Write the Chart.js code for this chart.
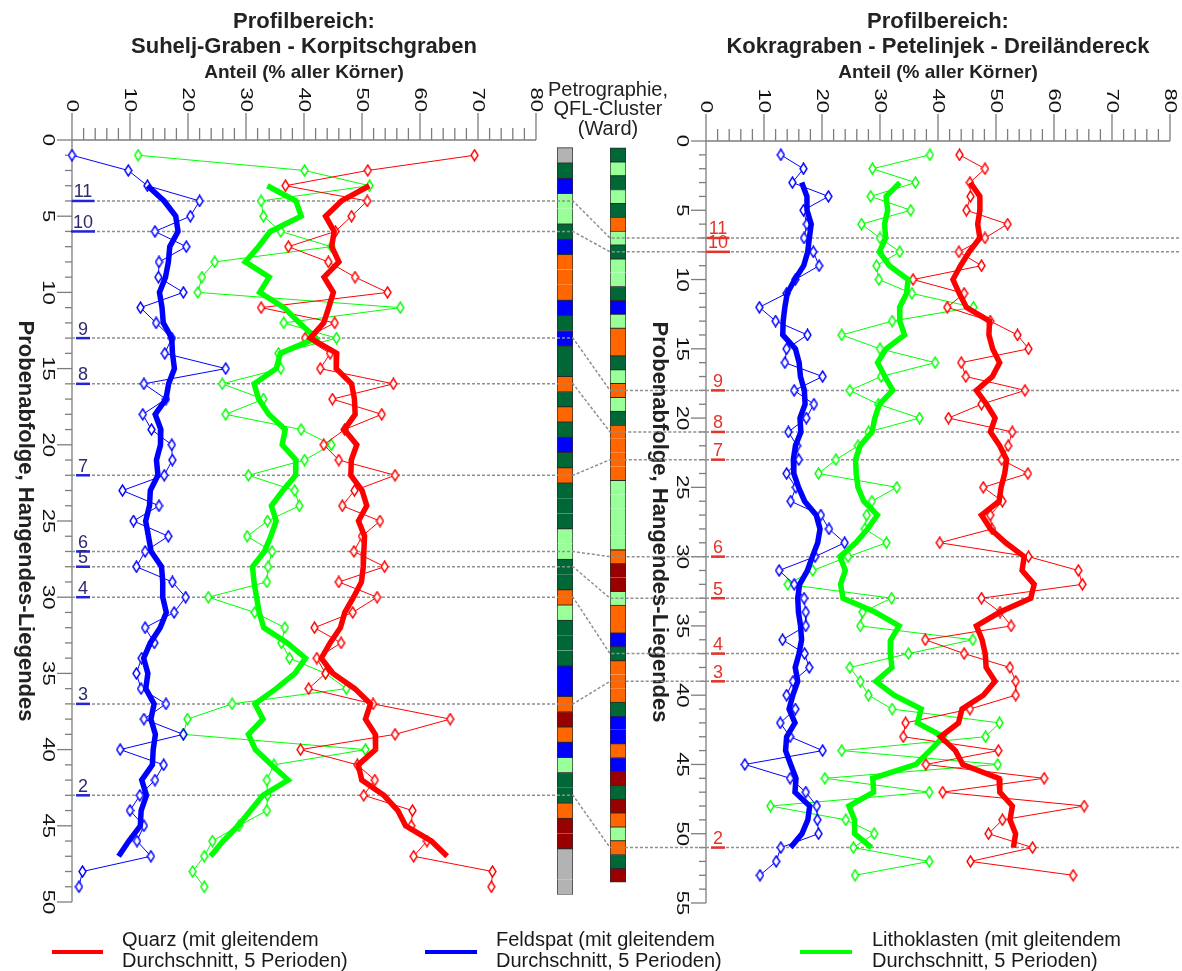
<!DOCTYPE html>
<html>
<head>
<meta charset="utf-8">
<title>Petrographie – QFL-Anteile entlang zweier Profilbereiche</title>
<script src="https://cdn.jsdelivr.net/npm/chart.js@4.4.1/dist/chart.umd.min.js"></script>
<style>
  html, body { margin: 0; padding: 0; background: #ffffff; }
  #wrap { position: relative; width: 1182px; height: 971px; overflow: hidden; background: #ffffff; }
  #wrap canvas { position: absolute; left: 0; top: 0; }
</style>
</head>
<body>
<div id="wrap">
  <canvas id="panelLeft" width="1182" height="971"></canvas>
  <canvas id="panelRight" width="1182" height="971"></canvas>
  <canvas id="stripLeft" width="1182" height="971"></canvas>
  <canvas id="stripRight" width="1182" height="971"></canvas>
</div>
<script>
// ---------------- data ----------------
// Profilbereich Suhelj-Graben - Korpitschgraben, samples 1..49 (top = hangend)
const quarzLeft = [69.4, 51.0, 36.8, 50.9, 48.2, 45.4, 37.3, 44.2, 48.8, 54.4,
  32.6, 45.3, 40.2, 44.5, 42.8, 55.4, 44.9, 53.4, 47.0, 43.4,
  46.0, 55.7, 48.7, 46.6, 53.1, 50.0, 48.6, 53.9, 46.0, 52.6,
  48.4, 41.8, 46.4, 42.2, 43.7, 40.8, 51.9, 65.2, 55.7, 39.4,
  49.2, 52.2, 50.3, 58.7, 58.5, 61.2, 58.9, 72.5, 72.3];
const feldspatLeft = [0.0, 9.7, 13.0, 22.0, 20.4, 14.3, 19.7, 15.0, 14.9, 19.2,
  11.8, 14.5, 17.2, 16.0, 26.5, 12.4, 16.2, 12.2, 13.7, 17.2,
  17.3, 15.9, 8.7, 15.0, 10.6, 16.6, 12.6, 11.1, 17.3, 19.6,
  17.6, 12.6, 14.2, 12.0, 11.1, 11.9, 16.2, 12.4, 19.2, 8.3,
  15.8, 14.3, 11.7, 10.0, 12.4, 11.2, 13.6, 1.8, 1.2];
const lithoLeft = [11.4, 40.1, 51.3, 32.6, 33.0, 36.0, 44.7, 24.6, 22.4, 21.7,
  56.6, 36.5, 45.6, 35.6, 36.0, 25.9, 33.0, 26.5, 39.5, 44.7,
  40.1, 30.4, 38.4, 39.2, 33.7, 30.2, 34.5, 33.8, 33.6, 23.5,
  31.5, 36.7, 36.1, 37.5, 43.7, 47.3, 27.6, 19.9, 19.2, 50.6,
  34.8, 33.6, 33.7, 33.6, 28.8, 24.2, 22.8, 20.8, 22.8];

// Profilbereich Kokragraben - Petelinjek - Dreiländereck, samples 1..53
const quarzRight = [43.7, 48.1, 45.5, 45.6, 44.9, 52.0, 48.1, 43.6, 47.5, 35.7,
  44.5, 41.6, 49.0, 53.7, 55.6, 44.0, 44.8, 55.0, 47.5, 41.8,
  52.8, 52.1, 51.0, 55.5, 47.8, 51.1, 49.0, 49.3, 40.3, 55.6,
  64.2, 64.9, 47.5, 50.7, 52.6, 37.8, 44.5, 52.4, 53.4, 53.4,
  45.5, 34.4, 34.0, 50.4, 37.9, 58.3, 40.8, 65.2, 51.1, 48.7,
  56.3, 45.6, 63.3];
const feldspatRight = [12.9, 16.8, 14.9, 21.1, 16.8, 17.4, 16.9, 18.5, 19.5, 15.4,
  13.9, 9.2, 12.0, 17.5, 13.9, 13.6, 20.1, 15.2, 18.6, 17.3,
  14.2, 15.7, 16.0, 13.9, 15.5, 14.6, 19.8, 21.2, 23.9, 18.8,
  12.6, 15.2, 16.9, 17.2, 17.2, 13.2, 17.0, 17.8, 15.0, 13.9,
  15.4, 12.8, 14.5, 20.1, 6.7, 14.5, 17.2, 19.1, 19.2, 19.4,
  12.9, 12.1, 9.3];
const lithoRight = [38.6, 28.7, 36.1, 28.4, 35.3, 26.8, 30.0, 33.4, 29.4, 29.8,
  35.5, 46.1, 32.1, 23.4, 30.0, 39.5, 30.2, 24.8, 29.7, 36.8,
  28.0, 26.2, 22.4, 19.4, 32.9, 28.6, 27.7, 27.4, 31.1, 24.5,
  18.4, 14.1, 32.0, 27.0, 26.6, 46.0, 34.9, 24.8, 26.6, 28.0,
  32.1, 50.6, 48.2, 23.4, 50.3, 20.5, 38.5, 11.1, 24.1, 29.0,
  25.4, 38.5, 25.7];

// QFL-Cluster (Ward) per sample: G grau, D dunkelgrün, B blau, L hellgrün, O orange, R dunkelrot
const clusterLeft = ['G','D','B','L','L','D','B','O','O','O',
  'B','D','B','D','D','O','D','O','D','B',
  'D','O','D','D','D','L','L','D','D','O',
  'L','D','D','D','B','B','O','R','O','B',
  'L','D','D','O','R','R','G','G','G'];
const clusterRight = ['D','L','D','L','D','O','L','D','L','L',
  'D','B','L','O','O','D','L','O','L','D',
  'O','O','O','O','L','L','L','L','L','O',
  'R','R','L','O','O','B','D','O','O','O',
  'D','B','B','O','B','R','D','R','O','L',
  'O','D','R'];

// Horizon markers and the sample they sit on in each profile
const horizonNames = ['11', '10', '9', '8', '7', '6', '5', '4', '3', '2'];
const horizonLeft  = [4, 6, 13, 16, 22, 27, 28, 30, 37, 43];
const horizonRight = [7, 8, 18, 21, 23, 30, 33, 37, 39, 51];

// Axis tick labels
const shareTicks = [0, 10, 20, 30, 40, 50, 60, 70, 80];
const sampleTicksLeft = [0, 5, 10, 15, 20, 25, 30, 35, 40, 45, 50];
const sampleTicksRight = [0, 5, 10, 15, 20, 25, 30, 35, 40, 45, 50, 55];

// Texts
const titleLeft = ['Profilbereich:', 'Suhelj-Graben - Korpitschgraben'];
const titleRight = ['Profilbereich:', 'Kokragraben - Petelinjek - Dreiländereck'];
const shareTitle = 'Anteil (% aller Körner)';
const sampleTitle = 'Probenabfolge, Hangendes-Liegendes';
const stripTitle = ['Petrographie,', 'QFL-Cluster', '(Ward)'];
const seriesNames = ['Quarz', 'Feldspat', 'Lithoklasten'];
const legendLines = [
  ['Quarz (mit gleitendem', 'Durchschnitt, 5 Perioden)'],
  ['Feldspat (mit gleitendem', 'Durchschnitt, 5 Perioden)'],
  ['Lithoklasten (mit gleitendem', 'Durchschnitt, 5 Perioden)']
];

// ---------------- styles ----------------
const W = 1182, H = 971;
const FONT = '"Liberation Sans", Arial, Helvetica, sans-serif';
const SERIES_COLORS = ['#ff0000', '#0000ff', '#00ff00'];
const CLUSTER_FILL = { G: '#b3b3b3', D: '#006837', B: '#0000ff', L: '#99ff99', O: '#ff6600', R: '#990000' };
const CLUSTER_EDGE = '#2a2a2a';
const AXIS_COLOR = '#7d7d7d';
const DOT_COLOR = '#8f8f8f';

const AREA_LEFT = { left: 72, right: 536, top: 140, bottom: 902 };
const AREA_RIGHT = { left: 706, right: 1170, top: 141, bottom: 903 };
const AREA_STRIP_LEFT = { left: 557, right: 573, top: 140, bottom: 902 };
const AREA_STRIP_RIGHT = { left: 610, right: 626, top: 141, bottom: 903 };

function padding(a) {
  return { left: a.left, top: a.top, right: W - a.right, bottom: H - a.bottom };
}

// hollow, slightly tall diamond marker
function diamondMarker(color) {
  const c = document.createElement('canvas');
  c.width = 9; c.height = 13;
  const g = c.getContext('2d');
  g.beginPath();
  g.moveTo(4.5, 1); g.lineTo(8, 6.5); g.lineTo(4.5, 12); g.lineTo(1, 6.5); g.closePath();
  g.fillStyle = '#ffffff'; g.fill();
  g.strokeStyle = color; g.lineWidth = 1.4; g.stroke();
  return c;
}

function samplePoints(values) {
  return values.map((v, i) => ({ x: v, y: i + 1 }));
}

// centred running mean over `span` samples (gleitender Durchschnitt)
function runningMean(values, span) {
  const h = (span - 1) / 2, out = [];
  for (let i = h; i < values.length - h; i++) {
    let s = 0;
    for (let j = i - h; j <= i + h; j++) s += values[j];
    out.push({ x: s / span, y: i + 1 });
  }
  return out;
}

function panelDatasets(q, f, l) {
  const sets = [];
  [q, f, l].forEach((vals, idx) => {
    const col = SERIES_COLORS[idx];
    sets.push({
      label: seriesNames[idx], data: samplePoints(vals),
      borderColor: col, backgroundColor: '#ffffff', borderWidth: 1,
      pointStyle: diamondMarker(col), pointRadius: 5, pointHoverRadius: 5,
      order: 2, clip: false, tension: 0
    });
    sets.push({
      label: seriesNames[idx] + ' (gleitender Durchschnitt, 5 Perioden)', data: runningMean(vals, 5),
      borderColor: col, borderWidth: 5.5, pointRadius: 0, pointHoverRadius: 0,
      order: 1, clip: false, tension: 0, borderJoinStyle: 'miter'
    });
  });
  return sets;
}

function line(ctx, x1, y1, x2, y2) {
  ctx.beginPath(); ctx.moveTo(x1, y1); ctx.lineTo(x2, y2); ctx.stroke();
}

// text turned 90° clockwise (reads top to bottom), stretched along its run
function turnedText(ctx, text, x, y, align, stretch) {
  ctx.save();
  ctx.translate(x, y);
  ctx.rotate(Math.PI / 2);
  ctx.scale(stretch, 1);
  ctx.textAlign = align;
  ctx.textBaseline = 'middle';
  ctx.fillText(text, 0, 0);
  ctx.restore();
}

function framePlugin(cfg) {
  return {
    id: 'frame' + cfg.key,
    beforeDatasetsDraw(chart) {
      const ctx = chart.ctx, xs = chart.scales.x, ys = chart.scales.y;
      const x0 = xs.getPixelForValue(0), x80 = xs.getPixelForValue(80);
      const yTop = ys.getPixelForValue(0), yBot = ys.getPixelForValue(ys.max);
      const cx = (x0 + x80) / 2;
      ctx.save();

      // headings
      ctx.fillStyle = '#222222';
      ctx.textAlign = 'center';
      ctx.textBaseline = 'alphabetic';
      ctx.font = 'bold 22px ' + FONT;
      ctx.fillText(cfg.title[0], cx, 28);
      ctx.fillText(cfg.title[1], cx, 53);
      ctx.font = 'bold 19px ' + FONT;
      ctx.fillText(shareTitle, cx, 78);

      // sample axis title
      ctx.save();
      ctx.translate(x0 - 47, (yTop + yBot) / 2);
      ctx.rotate(Math.PI / 2);
      ctx.font = 'bold 22px ' + FONT;
      ctx.textAlign = 'center';
      ctx.textBaseline = 'middle';
      ctx.fillText(sampleTitle, 0, 0);
      ctx.restore();

      // share axis (top)
      ctx.strokeStyle = AXIS_COLOR;
      ctx.lineWidth = 1.3;
      line(ctx, x0, yTop, x80, yTop);
      for (let v = 0; v <= 80; v += 2) {
        const px = xs.getPixelForValue(v);
        line(ctx, px, yTop, px, yTop - (v % 10 === 0 ? 27 : 12));
      }
      ctx.fillStyle = '#111111';
      ctx.font = '17px ' + FONT;
      shareTicks.forEach(v => turnedText(ctx, String(v), xs.getPixelForValue(v), yTop - 28, 'right', 1.3));

      // sample axis (left)
      line(ctx, x0, yTop, x0, yBot);
      for (let k = 0; k <= ys.max; k++) {
        const py = ys.getPixelForValue(k);
        line(ctx, x0 - (k % 5 === 0 ? 15 : 7), py, x0, py);
      }
      cfg.sampleTicks.forEach(v => turnedText(ctx, String(v), x0 - 24.5, ys.getPixelForValue(v), 'center', 1.3));

      // horizon lines
      ctx.strokeStyle = DOT_COLOR;
      ctx.lineWidth = 1.5;
      ctx.setLineDash([3, 2]);
      cfg.horizons.forEach(k => {
        const py = ys.getPixelForValue(k);
        line(ctx, x0, py, cfg.dotEnd, py);
      });
      ctx.restore();
    },
    afterDatasetsDraw(chart) {
      const ctx = chart.ctx, ys = chart.scales.y;
      ctx.save();
      ctx.font = '18px ' + FONT;
      ctx.textAlign = 'center';
      ctx.textBaseline = 'alphabetic';
      cfg.horizons.forEach((k, i) => {
        const py = ys.getPixelForValue(k);
        const name = horizonNames[i];
        const w = ctx.measureText(name).width;
        ctx.fillStyle = cfg.labelColor;
        ctx.fillText(name, cfg.labelX, py - 3.5);
        ctx.strokeStyle = cfg.underlineColor;
        ctx.lineWidth = 2.5;
        line(ctx, cfg.labelX - w / 2 - 2, py, cfg.labelX + w / 2 + 2, py);
      });
      ctx.restore();
    }
  };
}

function panelChart(id, area, yMax, sets, cfg) {
  return new Chart(document.getElementById(id), {
    type: 'line',
    data: { datasets: sets },
    options: {
      responsive: false, animation: false, devicePixelRatio: 1,
      indexAxis: 'y',
      events: [],
      layout: { padding: padding(area) },
      scales: {
        x: { type: 'linear', min: 0, max: 80, display: false, offset: false },
        y: { type: 'linear', min: 0, max: yMax, reverse: true, display: false, offset: false }
      },
      plugins: { legend: { display: false }, tooltip: { enabled: false }, title: { display: false } }
    },
    plugins: [framePlugin(cfg)]
  });
}

// one cell per sample; runs of the same cluster share an outline
function stripChart(id, area, yMax, clusters, extraPlugins) {
  const last = clusters.length - 1;
  return new Chart(document.getElementById(id), {
    type: 'bar',
    data: {
      datasets: [{
        label: 'QFL-Cluster',
        data: clusters.map((c, i) => ({ y: i + 1, x: [0, 1] })),
        backgroundColor: clusters.map(c => CLUSTER_FILL[c]),
        borderColor: CLUSTER_EDGE,
        borderWidth: ctx => {
          const i = ctx.dataIndex;
          return {
            top: (i === 0 || clusters[i - 1] !== clusters[i]) ? 1 : 0,
            left: 1, right: 1,
            bottom: (i === last || clusters[i + 1] !== clusters[i]) ? 0.5 : 0
          };
        },
        borderSkipped: false,
        barPercentage: 1, categoryPercentage: 1
      }]
    },
    options: {
      responsive: false, animation: false, devicePixelRatio: 1,
      indexAxis: 'y',
      events: [],
      layout: { padding: padding(area) },
      scales: {
        x: { type: 'linear', min: 0, max: 1, display: false, offset: false },
        y: { type: 'linear', min: 0, max: yMax, reverse: true, display: false, offset: false }
      },
      plugins: { legend: { display: false }, tooltip: { enabled: false } }
    },
    plugins: extraPlugins || []
  });
}

const chartLeft = panelChart('panelLeft', AREA_LEFT, 50,
  panelDatasets(quarzLeft, feldspatLeft, lithoLeft),
  { key: 'L', title: titleLeft, sampleTicks: sampleTicksLeft, horizons: horizonLeft,
    dotEnd: AREA_STRIP_LEFT.left, labelX: 83, labelColor: '#2f2a6e', underlineColor: '#2323d9' });

const chartRight = panelChart('panelRight', AREA_RIGHT, 55,
  panelDatasets(quarzRight, feldspatRight, lithoRight),
  { key: 'R', title: titleRight, sampleTicks: sampleTicksRight, horizons: horizonRight,
    dotEnd: 1180, labelX: 718, labelColor: '#e3342b', underlineColor: '#e3342b' });

const chartStripLeft = stripChart('stripLeft', AREA_STRIP_LEFT, 50, clusterLeft);

// connectors between the two cluster columns, column heading and legend
const overlayPlugin = {
  id: 'overlay',
  afterDraw(chart) {
    const ctx = chart.ctx;
    const yl = chartLeft.scales.y, yr = chartRight.scales.y;
    const aL = chartStripLeft.chartArea, aR = chart.chartArea;
    const rightAxisX = chartRight.scales.x.getPixelForValue(0);
    ctx.save();
    ctx.strokeStyle = DOT_COLOR;
    ctx.lineWidth = 1.5;
    ctx.setLineDash([3, 2]);
    horizonLeft.forEach((kL, i) => {
      const pL = yl.getPixelForValue(kL), pR = yr.getPixelForValue(horizonRight[i]);
      ctx.beginPath();
      ctx.moveTo(aL.left, pL);
      ctx.lineTo(aL.right, pL);
      ctx.lineTo(aR.left, pR);
      ctx.lineTo(rightAxisX, pR);
      ctx.stroke();
    });
    ctx.setLineDash([]);

    // column heading
    ctx.fillStyle = '#222222';
    ctx.font = '20px ' + FONT;
    ctx.textAlign = 'center';
    ctx.textBaseline = 'alphabetic';
    const hx = 608;
    ctx.fillText(stripTitle[0], hx, 96);
    ctx.fillText(stripTitle[1], hx, 115);
    ctx.fillText(stripTitle[2], hx, 135);

    // legend
    const slots = [{ l: 52, r: 103, t: 122 }, { l: 425, r: 477, t: 496 }, { l: 800, r: 852, t: 872 }];
    ctx.textAlign = 'left';
    ctx.font = '20px ' + FONT;
    slots.forEach((s, i) => {
      ctx.strokeStyle = SERIES_COLORS[i];
      ctx.lineWidth = 4;
      line(ctx, s.l, 952, s.r, 952);
      ctx.fillStyle = '#1a1a1a';
      ctx.fillText(legendLines[i][0], s.t, 946);
      ctx.fillText(legendLines[i][1], s.t, 967);
    });
    ctx.restore();
  }
};

const chartStripRight = stripChart('stripRight', AREA_STRIP_RIGHT, 55, clusterRight, [overlayPlugin]);
</script>
</body>
</html>
